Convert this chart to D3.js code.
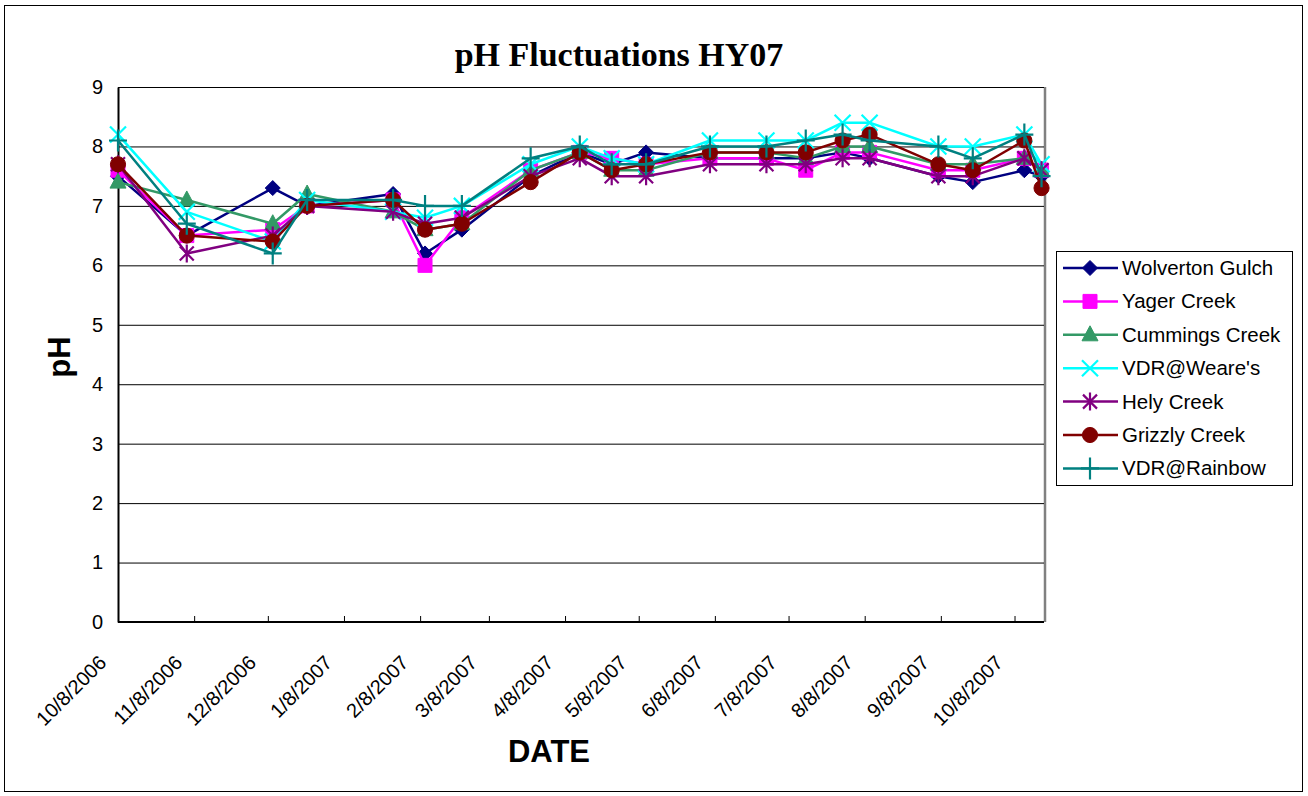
<!DOCTYPE html>
<html>
<head>
<meta charset="utf-8">
<script src="https://cdn.jsdelivr.net/npm/d3@7"></script>
<style>
  html, body { margin: 0; padding: 0; background: #fff; }
  svg { display: block; }
</style>
</head>
<body>
<svg id="chart" width="1308" height="796"></svg>
<script>
// ---------- DATA ----------
const sampleDates = ["2006-10-08","2006-11-05","2006-12-10","2006-12-24","2007-01-28","2007-02-10","2007-02-25",
  "2007-03-25","2007-04-14","2007-04-27","2007-05-11","2007-06-06","2007-06-29","2007-07-15","2007-07-30",
  "2007-08-10","2007-09-07","2007-09-21","2007-10-12","2007-10-19"];
const tickDates = ["2006-10-08","2006-11-08","2006-12-08","2007-01-08","2007-02-08","2007-03-08","2007-04-08",
  "2007-05-08","2007-06-08","2007-07-08","2007-08-08","2007-09-08","2007-10-08"];
const tickLabels = ["10/8/2006","11/8/2006","12/8/2006","1/8/2007","2/8/2007","3/8/2007","4/8/2007",
  "5/8/2007","6/8/2007","7/8/2007","8/8/2007","9/8/2007","10/8/2007"];
const yTicks = [0,1,2,3,4,5,6,7,8,9];

const seriesNames = ["Wolverton Gulch","Yager Creek","Cummings Creek","VDR@Weare's","Hely Creek","Grizzly Creek","VDR@Rainbow"];
const wolvertonGulch = [7.5,6.5,7.3,7.0,7.2,6.2,6.6,7.5,7.9,7.7,7.9,7.8,7.8,7.8,7.9,7.8,7.5,7.4,7.6,7.5];
const yagerCreek     = [7.6,6.5,6.6,7.0,7.1,6.0,6.8,7.6,7.9,7.8,7.7,7.8,7.8,7.6,7.9,7.9,7.6,7.6,7.8,7.6];
const cummingsCreek  = [7.4,7.1,6.7,7.2,6.9,6.6,6.7,7.6,7.9,7.6,7.6,7.9,7.9,7.8,8.0,8.0,7.7,7.7,7.8,7.6];
const vdrWeares      = [8.2,6.9,6.4,7.1,6.9,6.8,7.0,7.7,8.0,7.8,7.7,8.1,8.1,8.1,8.4,8.4,8.0,8.0,8.2,7.7];
const helyCreek      = [7.7,6.2,6.5,7.0,6.9,6.7,6.8,7.5,7.8,7.5,7.5,7.7,7.7,7.7,7.8,7.8,7.5,7.5,7.8,7.6];
const grizzlyCreek   = [7.7,6.5,6.4,7.0,7.1,6.6,6.7,7.4,7.9,7.6,7.7,7.9,7.9,7.9,8.1,8.2,7.7,7.6,8.1,7.3];
const vdrRainbow     = [8.1,6.7,6.2,7.1,7.1,7.0,7.0,7.8,8.0,7.7,7.7,8.0,8.0,8.1,8.2,8.1,8.0,7.8,8.2,7.5];
const seriesValues = [wolvertonGulch, yagerCreek, cummingsCreek, vdrWeares, helyCreek, grizzlyCreek, vdrRainbow];
const seriesColors = ["#000080","#FF00FF","#339966","#00FFFF","#800080","#800000","#008080"];
const seriesMarkers = ["diamond","square","triangle","x","asterisk","circle","plus"];
const xDomain = ["2006-10-08","2007-10-20"];

// ---------- LAYOUT ----------
const parse = d3.timeParse("%Y-%m-%d");
const svg = d3.select("#chart");
const L = 118, R = 1044, T = 87, B = 622;
const sans = "Liberation Sans, Arial, sans-serif";

const x = d3.scaleTime().domain(xDomain.map(parse)).range([L, R]);
const y = d3.scaleLinear().domain([0, 9]).range([B, T]);

// outer border
svg.append("rect").attr("x", 4.5).attr("y", 5.5).attr("width", 1298).attr("height", 786)
  .attr("fill", "#fff").attr("stroke", "#000").attr("stroke-width", 1);

// plot area right border (gray)
svg.append("line").attr("x1", R + 1).attr("x2", R + 1).attr("y1", T).attr("y2", B)
  .attr("stroke", "#808080").attr("stroke-width", 2.5);

// gridlines
svg.append("g").selectAll("line").data(yTicks.filter(d => d > 0)).join("line")
  .attr("x1", L).attr("x2", R).attr("y1", d => y(d) + 0.5).attr("y2", d => y(d) + 0.5)
  .attr("stroke", "#000").attr("stroke-width", 1);

// y axis
const yAxis = d3.axisLeft(y).tickValues(yTicks).tickSize(0).tickPadding(15).tickFormat(d3.format("d"));
const gy = svg.append("g").attr("transform", `translate(${L},0)`).call(yAxis);
gy.select(".domain").attr("stroke", "#000").attr("stroke-width", 2);
gy.selectAll("text").attr("font-family", sans).attr("font-size", 20).attr("fill", "#000");

// x axis
const xAxis = d3.axisBottom(x).tickValues(tickDates.map(parse)).tickSize(-6)
  .tickFormat((d, i) => tickLabels[i]);
const gx = svg.append("g").attr("transform", `translate(0,${B})`).call(xAxis);
gx.select(".domain").attr("stroke", "#000").attr("stroke-width", 2).attr("d", `M${L},0H${R}`);
gx.selectAll(".tick line").attr("stroke", "#000");
gx.selectAll("text")
  .attr("font-family", sans).attr("font-size", 20).attr("fill", "#000")
  .attr("text-anchor", "end").attr("dy", 0).attr("y", 0)
  .attr("transform", "translate(-11,42) rotate(-45)");

// marker path generator
function markerPath(type) {
  switch (type) {
    case "diamond": return "M0,-7.5L7.5,0L0,7.5L-7.5,0Z";
    case "square": return "M-7,-7H7V7H-7Z";
    case "triangle": return "M0,-9L8,6H-8Z";
    case "x": return "M-8,-8L8,8M-8,8L8,-8";
    case "asterisk": return "M-7,-7L7,7M-7,7L7,-7M0,-9V9";
    case "plus": return "M-9,0H9M0,-11V11";
    case "circle": return d3.symbol(d3.symbolCircle, 180)();
  }
}
const strokeMarkers = new Set(["x", "asterisk", "plus"]);

const line = d3.line().x(d => x(d.date)).y(d => y(d.v));

seriesNames.forEach((name, si) => {
  const pts = sampleDates.map((d, i) => ({ date: parse(d), v: seriesValues[si][i] }));
  const g = svg.append("g");
  g.append("path").datum(pts).attr("d", line).attr("fill", "none")
    .attr("stroke", seriesColors[si]).attr("stroke-width", 2.5).attr("stroke-linejoin", "round");
  const m = seriesMarkers[si];
  g.selectAll("path.mk").data(pts).join("path").attr("class", "mk")
    .attr("transform", d => `translate(${x(d.date)},${y(d.v)})`)
    .attr("d", markerPath(m))
    .attr("fill", strokeMarkers.has(m) ? "none" : seriesColors[si])
    .attr("stroke", seriesColors[si])
    .attr("stroke-width", strokeMarkers.has(m) ? 2.2 : 1);
});

// title
svg.append("text").attr("x", 619).attr("y", 66).attr("text-anchor", "middle")
  .attr("font-family", "Liberation Serif, Times New Roman, serif").attr("font-weight", "bold")
  .attr("font-size", 34).text("pH Fluctuations HY07");

// axis titles
svg.append("text").attr("transform", "translate(70,357) rotate(-90)").attr("text-anchor", "middle")
  .attr("font-family", sans).attr("font-weight", "bold")
  .attr("font-size", 31).text("pH");
svg.append("text").attr("x", 549).attr("y", 762).attr("text-anchor", "middle")
  .attr("font-family", sans).attr("font-weight", "bold")
  .attr("font-size", 31).text("DATE");

// legend
const lg = svg.append("g");
lg.append("rect").attr("x", 1056.5).attr("y", 251.5).attr("width", 236).attr("height", 234)
  .attr("fill", "#fff").attr("stroke", "#000").attr("stroke-width", 1);
seriesNames.forEach((name, si) => {
  const yy = 268 + si * 33.4;
  lg.append("line").attr("x1", 1063).attr("x2", 1118).attr("y1", yy).attr("y2", yy)
    .attr("stroke", seriesColors[si]).attr("stroke-width", 2.5);
  const m = seriesMarkers[si];
  lg.append("path").attr("transform", `translate(1090,${yy})`).attr("d", markerPath(m))
    .attr("fill", strokeMarkers.has(m) ? "none" : seriesColors[si])
    .attr("stroke", seriesColors[si]).attr("stroke-width", strokeMarkers.has(m) ? 2.2 : 1);
  lg.append("text").attr("x", 1122).attr("y", yy + 7)
    .attr("font-family", sans).attr("font-size", 20.5).text(name);
});
</script>
</body>
</html>
